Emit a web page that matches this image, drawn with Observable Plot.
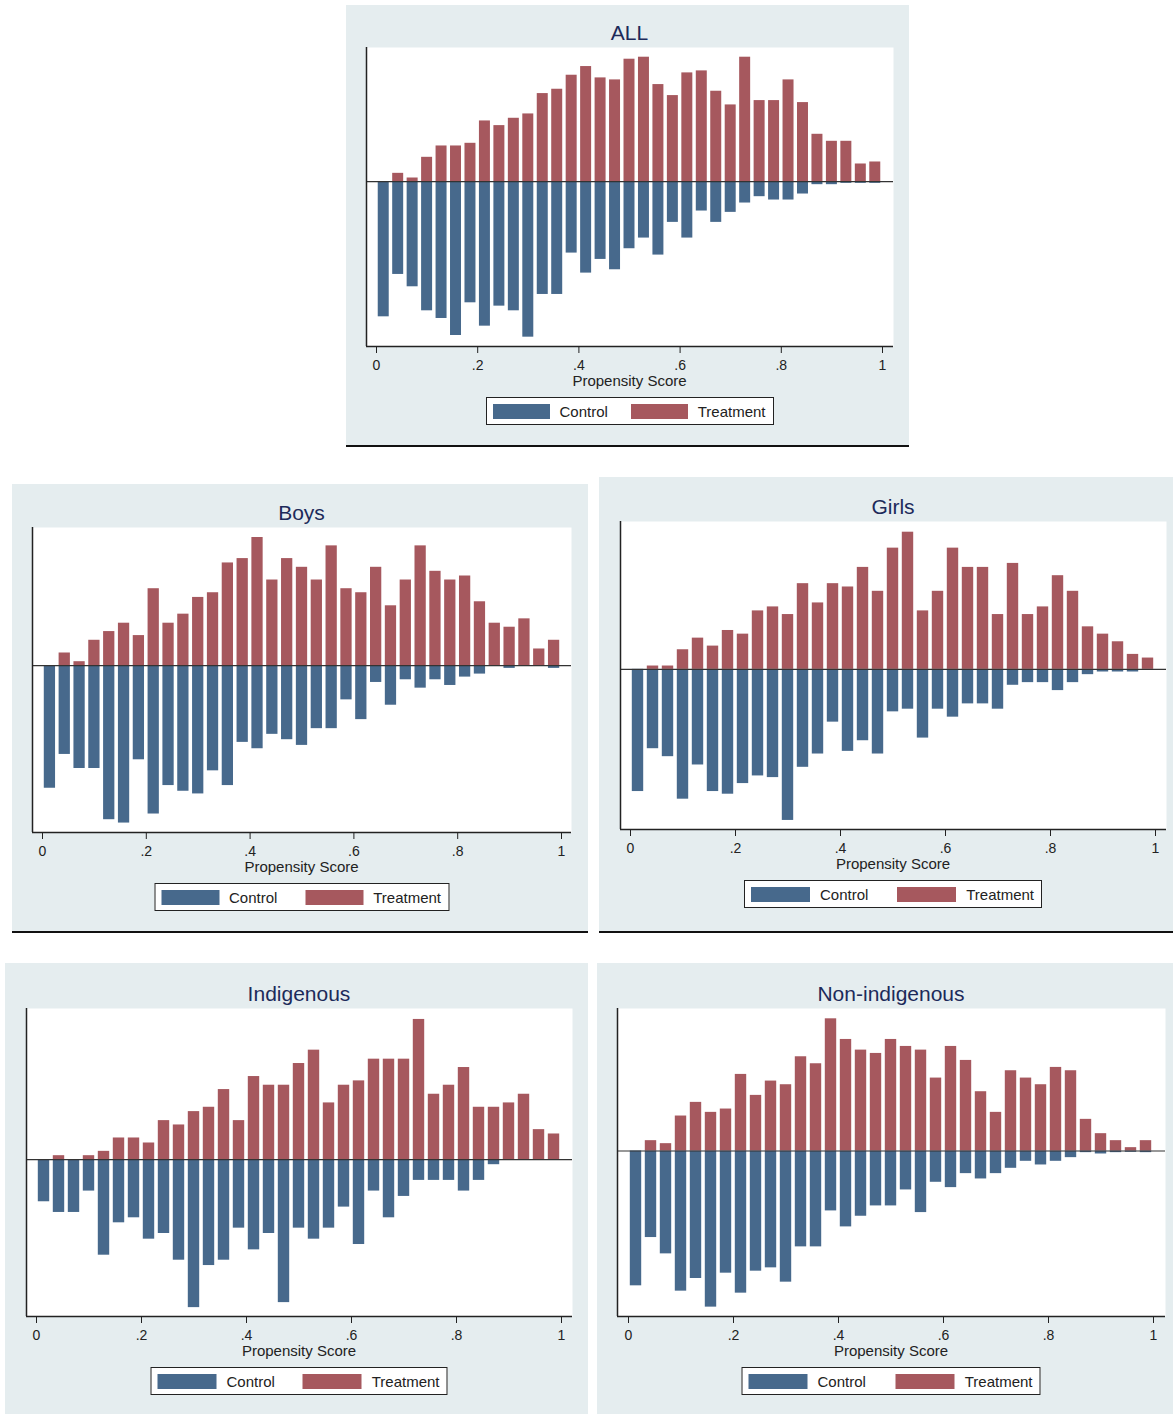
<!DOCTYPE html>
<html>
<head>
<meta charset="utf-8">
<script src="https://cdn.jsdelivr.net/npm/d3@7"></script>
<script src="https://cdn.jsdelivr.net/npm/@observablehq/plot@0.6"></script>
<style>
  body { margin: 0; background: #fff; font-family: "Liberation Sans", Arial, sans-serif; }
  #page { position: relative; width: 1173px; height: 1414px; overflow: hidden; background: #fff; }
  .panel { position: absolute; background: #e5edef; box-sizing: border-box; }
  .panel.bordered { border-bottom: 2px solid #111; }
  .title { position: absolute; font-size: 21px; line-height: 24px; color: #1c2a5a; transform: translate(-50%, -50%); white-space: nowrap; }
  .xlab { position: absolute; font-size: 15px; line-height: 17px; color: #222; transform: translateX(-50%); white-space: nowrap; }
  .legend { position: absolute; transform: translateX(-50%); box-sizing: border-box; background: #fff; border: 1px solid #222; height: 28px; display: flex; align-items: center; padding: 0 7px 0 6px; font-size: 15px; color: #222; white-space: nowrap; }
  .legend .sw { height: 15px; display: inline-block; margin-right: 10px; flex: none; }
  .legend .gap { display: inline-block; flex: 1; }
  .plotwrap { position: absolute; }
</style>
</head>
<body>
<div id="page"></div>
<script>
// ---------------- data (bar heights, arbitrary units) ----------------
const nBins = 35;
const groups = ["Control", "Treatment"];
const xTicks = [0, 0.2, 0.4, 0.6, 0.8, 1];
const xLabel = "Propensity Score";
const panelNames = ["ALL", "Boys", "Girls", "Indigenous", "Non-indigenous"];

const allTreatment = [0,25,11,73,107,107,115,182,168,190,203,264,277,319,345,311,305,367,373,291,258,326,332,271,230,373,243,243,305,237,142,121,121,53,59];
const allControl   = [405,278,315,387,410,461,363,433,373,387,466,338,338,214,274,233,264,201,169,220,122,169,88,122,92,64,45,55,55,37,9,9,5,5,5];

const boysTreatment = [0,38,12,76,102,127,90,230,127,154,204,218,307,320,383,256,320,294,256,358,230,218,294,179,256,358,282,256,268,191,127,115,140,50,76];
const boysControl   = [366,265,307,307,460,470,281,443,358,375,383,314,358,229,248,205,221,238,188,188,102,161,50,118,42,67,42,59,34,25,0,8,0,0,8];

const girlsTreatment = [0,10,10,59,94,70,117,106,176,188,165,258,200,258,248,307,235,365,413,176,235,365,307,307,165,319,165,188,282,235,128,106,83,45,34];
const girlsControl   = [368,239,263,391,288,368,376,344,321,326,455,295,255,159,247,215,255,128,120,207,120,144,104,104,120,48,40,40,64,40,16,8,8,8,0];

const indigTreatment = [0,12,0,12,25,65,65,50,117,104,144,157,210,117,249,223,223,288,328,170,223,236,301,301,301,420,196,223,276,157,157,170,196,90,77];
const indigControl   = [126,158,158,94,286,189,174,238,221,301,443,317,301,205,270,221,428,205,238,205,142,254,94,174,110,62,62,62,94,62,15,0,0,0,0];

const nonIndigTreatment = [0,31,22,105,146,116,126,230,167,210,199,283,262,397,335,303,293,335,314,303,219,314,272,178,116,241,219,199,251,241,95,52,31,10,31];
const nonIndigControl   = [405,260,309,421,383,469,367,427,361,351,394,288,288,180,228,196,165,165,117,185,94,110,68,84,68,52,31,42,31,20,5,9,5,4,5];

const seriesByPanel = {
  "ALL": [allControl, allTreatment],
  "Boys": [boysControl, boysTreatment],
  "Girls": [girlsControl, girlsTreatment],
  "Indigenous": [indigControl, indigTreatment],
  "Non-indigenous": [nonIndigControl, nonIndigTreatment]
};

// ---------------- styling / layout ----------------
const colors = ["#47698c", "#a6585e"];
const layout = {
  "ALL":            { panel: [346, 5, 909, 447],    plot: [366, 47, 893, 346],    x0: 376, x1: 882,  border: true,  legW: 288, sw: 57 },
  "Boys":           { panel: [12, 484, 588, 933],   plot: [32, 527, 571, 832],    x0: 42,  x1: 561,  border: true,  legW: 295, sw: 58 },
  "Girls":          { panel: [599, 477, 1173, 933], plot: [620, 521, 1166, 829],  x0: 630, x1: 1155, border: true,  legW: 298, sw: 59 },
  "Indigenous":     { panel: [5, 963, 588, 1414],   plot: [26, 1008, 572, 1316],  x0: 36,  x1: 561,  border: false, legW: 297, sw: 59 },
  "Non-indigenous": { panel: [597, 963, 1173, 1414],plot: [617, 1008, 1165, 1316],x0: 628, x1: 1153, border: false, legW: 299, sw: 59 }
};

const page = document.getElementById("page");
const fmtTick = d => d === 0 ? "0" : d === 1 ? "1" : d3.format(".1f")(d).replace(/^0/, "");

function el(cls, css, html) {
  const e = document.createElement("div");
  e.className = cls;
  Object.assign(e.style, css);
  if (html != null) e.innerHTML = html;
  page.appendChild(e);
  return e;
}

for (const name of panelNames) {
  const L = layout[name];
  const [pl, pt, pr, pb] = L.panel;
  const [ql, qt, qr, qb] = L.plot;
  const [ctrl, treat] = seriesByPanel[name];

  el("panel" + (L.border ? " bordered" : ""), { left: pl + "px", top: pt + "px", width: (pr - pl) + "px", height: (pb - pt) + "px" });

  const rows = [];
  for (let i = 0; i < nBins; i++) {
    rows.push({ bin: i, group: groups[0], value: -ctrl[i] });
    rows.push({ bin: i, group: groups[1], value: treat[i] });
  }

  const ppu = L.x1 - L.x0;
  const xDomain = [-(L.x0 - ql) / ppu, 1 + (qr - L.x1) / ppu];
  const yDomain = [-1.06 * d3.max(ctrl), 1.078 * d3.max(treat)];

  const W = pr - pl, H = qb - pt + 30;
  const chart = Plot.plot({
    width: W,
    height: H,
    marginLeft: ql - pl,
    marginRight: pr - qr,
    marginTop: qt - pt,
    marginBottom: H - (qb - pt),
    style: { background: "transparent", color: "#222", fontFamily: "'Liberation Sans', Arial, sans-serif", overflow: "visible" },
    x: { domain: xDomain },
    y: { domain: yDomain, axis: null },
    color: { domain: groups, range: colors },
    marks: [
      Plot.frame({ fill: "#ffffff", stroke: "none" }),
      Plot.rectY(rows, {
        x1: d => (d.bin + 0.12) / nBins,
        x2: d => (d.bin + 0.88) / nBins,
        y1: 0,
        y2: "value",
        fill: "group"
      }),
      Plot.ruleY([0], { stroke: "#333", strokeWidth: 1.2 }),
      Plot.ruleX([xDomain[0]], { stroke: "#222", strokeWidth: 1.5 }),
      Plot.ruleY([yDomain[0]], { stroke: "#222", strokeWidth: 1.5 }),
      Plot.axisX({ ticks: xTicks, tickFormat: fmtTick, tickSize: 7, tickPadding: 7, fontSize: 14, label: null })
    ]
  });
  const wrap = el("plotwrap", { left: pl + "px", top: pt + "px", width: W + "px", height: H + "px" });
  wrap.appendChild(chart);

  const cx = (ql + qr) / 2;
  el("title", { left: cx + "px", top: (qt - 14.5) + "px" }, name);
  el("xlab", { left: cx + "px", top: (qb + 26) + "px" }, xLabel);
  el("legend", { left: cx + "px", top: (qb + 51) + "px", width: L.legW + "px" },
    `<span class="sw" style="background:${colors[0]};width:${L.sw}px"></span>${groups[0]}<span class="gap"></span>` +
    `<span class="sw" style="background:${colors[1]};width:${L.sw}px"></span>${groups[1]}`);
}
</script>
</body>
</html>
